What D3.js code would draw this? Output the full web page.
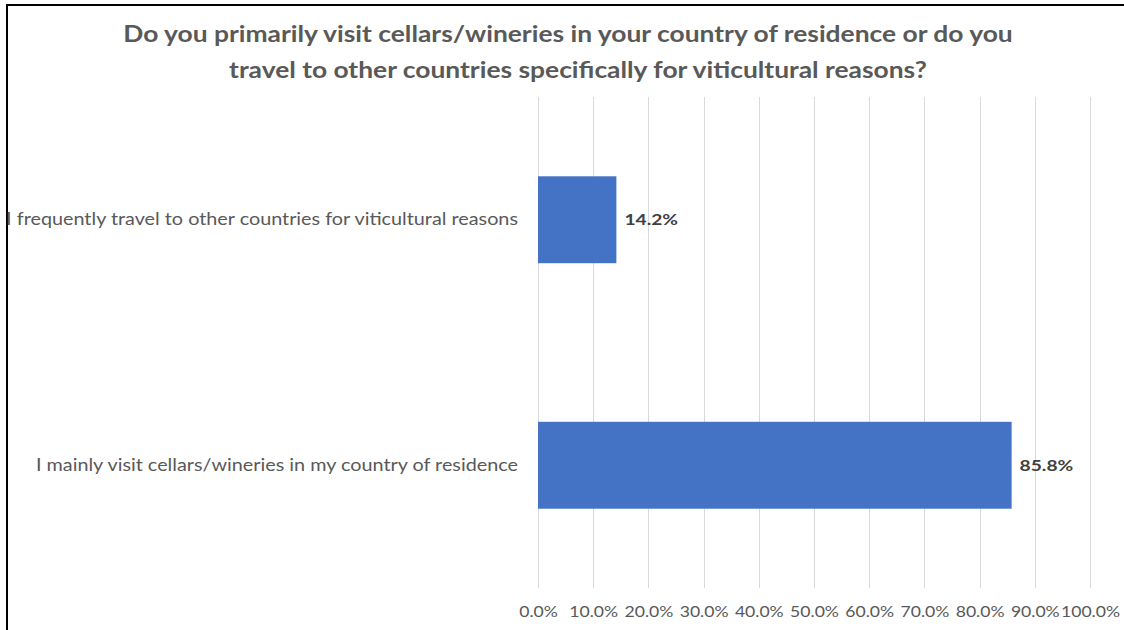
<!DOCTYPE html>
<html>
<head>
<meta charset="utf-8">
<script src="https://cdn.jsdelivr.net/npm/d3@7"></script>
<style>
  html, body { margin: 0; padding: 0; background: #fff; }
  svg { display: block; }
</style>
</head>
<body>
<svg id="chart" width="1124" height="630"></svg>
<script>
// Survey answers and their shares (percent)
const categories = [
  "I frequently travel to other countries for viticultural reasons",
  "I mainly visit cellars/wineries in my country of residence"
];
const values = [14.2, 85.8];
const tickValues = [0, 10, 20, 30, 40, 50, 60, 70, 80, 90, 100];
const titleLines = [
  "Do you primarily visit cellars/wineries in your country of residence or do you",
  "travel to other countries specifically for viticultural reasons?"
];

const svg = d3.select("#chart");
const W = 1124, H = 630;
const margin = { top: 97, right: 34, bottom: 42, left: 538 };
const textColor = "#595959";
const font = "Lato, 'Open Sans', sans-serif";
const stretch = 1.2; // wide text rendering

// frame lines along the top and left edges
svg.append("line").attr("x1", 6).attr("x2", W).attr("y1", 5).attr("y2", 5)
  .attr("stroke", "#000").attr("stroke-width", 2);
svg.append("line").attr("x1", 7).attr("x2", 7).attr("y1", 4).attr("y2", H)
  .attr("stroke", "#000").attr("stroke-width", 2);

const x = d3.scaleLinear().domain([0, 100]).range([margin.left, W - margin.right]);
const y = d3.scaleBand().domain(categories)
  .range([margin.top, H - margin.bottom]).paddingInner(0.646).paddingOuter(0.323);

// vertical gridlines
svg.append("g").selectAll("line").data(tickValues).join("line")
  .attr("x1", d => Math.round(x(d)) + 0.5).attr("x2", d => Math.round(x(d)) + 0.5)
  .attr("y1", margin.top).attr("y2", H - margin.bottom)
  .attr("stroke", "#d9d9d9").attr("stroke-width", 1);

// x axis labels
const xAxis = d3.axisBottom(x).tickValues(tickValues)
  .tickFormat(d => d.toFixed(1) + "%").tickSize(0).tickPadding(18);
const gx = svg.append("g").attr("transform", `translate(0,${H - margin.bottom})`).call(xAxis);
gx.select(".domain").remove();
gx.selectAll("text").attr("fill", textColor).style("font-family", font).style("font-size", "16px")
  .attr("y", 0).attr("transform", `translate(0,18) scale(1.1,1)`);

// y axis labels
const yAxis = d3.axisLeft(y).tickSize(0).tickPadding(20);
const gy = svg.append("g").attr("transform", `translate(${margin.left},0)`).call(yAxis);
gy.select(".domain").remove();
gy.selectAll("text").attr("fill", textColor).style("font-family", font).style("font-size", "16.5px")
  .attr("x", 0).attr("transform", `translate(-20,0) scale(${stretch},1)`);

// bars
const rows = categories.map((c, i) => ({ c, v: values[i] }));
svg.append("g").selectAll("rect").data(rows).join("rect")
  .attr("x", x(0)).attr("y", d => y(d.c))
  .attr("width", d => x(d.v) - x(0)).attr("height", y.bandwidth())
  .attr("fill", "#4472C4");

// value labels
svg.append("g").selectAll("text").data(rows).join("text")
  .attr("transform", d => `translate(${x(d.v) + 8},${y(d.c) + y.bandwidth() / 2}) scale(${stretch},1)`)
  .attr("dy", "0.35em")
  .attr("fill", "#404040").style("font-family", font).style("font-size", "16px")
  .style("font-weight", "bold")
  .text(d => d.v.toFixed(1) + "%");

// title
const titleCenters = [568, 578];
svg.append("g").selectAll("text").data(titleLines).join("text")
  .attr("transform", (d, i) => `translate(${titleCenters[i]},${42 + i * 36}) scale(${stretch},1)`)
  .attr("text-anchor", "middle")
  .attr("fill", textColor).style("font-family", font).style("font-size", "22px")
  .style("font-weight", "bold")
  .text(d => d);
</script>
</body>
</html>
